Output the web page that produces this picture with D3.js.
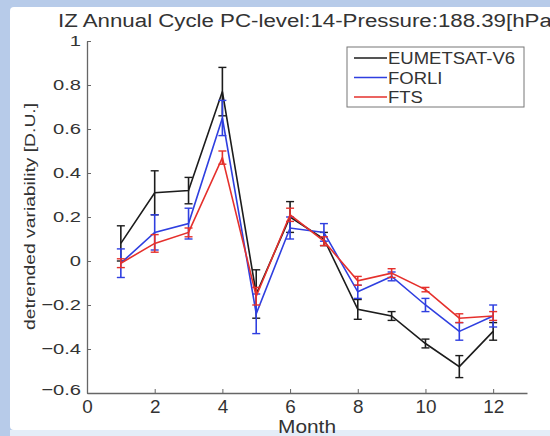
<!DOCTYPE html>
<html lang="en">
<head>
<meta charset="UTF-8">
<title>IZ Annual Cycle</title>
<style>
    body { margin: 0; background: #b7cbe9; }
    svg { display: block; }
    text { font-family: "Liberation Sans", Arial, sans-serif; fill: #333; }
</style>
</head>
<body>
<svg id="chart" width="550" height="436"></svg>
<script src="https://d3js.org/d3.v7.min.js"></script>
<script>
// months 1..12
var months = [1, 2, 3, 4, 5, 6, 7, 8, 9, 10, 11, 12];

var eumetsat = [0.08, 0.31, 0.32, 0.77, -0.15, 0.20, 0.10, -0.22, -0.25, -0.375, -0.48, -0.32];
var eumetsatErr = [0.08, 0.10, 0.06, 0.11, 0.11, 0.07, 0.03, 0.045, 0.02, 0.02, 0.05, 0.04];

var forli = [-0.01, 0.13, 0.17, 0.65, -0.24, 0.15, 0.13, -0.14, -0.07, -0.20, -0.32, -0.25];
var forliErr = [0.065, 0.08, 0.07, 0.08, 0.09, 0.05, 0.04, 0.03, 0.02, 0.03, 0.04, 0.05];

var fts = [-0.01, 0.08, 0.13, 0.47, -0.16, 0.21, 0.09, -0.09, -0.055, -0.13, -0.26, -0.25];
var ftsErr = [0.02, 0.04, 0.02, 0.03, 0.04, 0.03, 0.02, 0.02, 0.02, 0.01, 0.02, 0.02];

var xTicks = [0, 2, 4, 6, 8, 10, 12];
var yTicks = [-0.6, -0.4, -0.2, 0, 0.2, 0.4, 0.6, 0.8, 1];

var series = [
    {name: "EUMETSAT-V6", values: eumetsat, err: eumetsatErr, color: "#1c1c1c"},
    {name: "FORLI", values: forli, err: forliErr, color: "#2f3fe0"},
    {name: "FTS", values: fts, err: ftsErr, color: "#e5302c"}
];

var svg = d3.select("#chart");

// stretch a text node horizontally so it spans the given width
function fitWidth(sel, w) {
    sel.attr("textLength", w).attr("lengthAdjust", "spacingAndGlyphs");
}

// white panel over the blue page frame
svg.append("rect").attr("x", 10).attr("y", 7).attr("width", 545).attr("height", 423)
    .attr("rx", 4).attr("fill", "#fff");
svg.append("rect").attr("x", 10).attr("y", 430).attr("width", 540).attr("height", 6)
    .attr("fill", "#e4edf8");

var x = d3.scaleLinear().domain([0, 13]).range([87, 527]);
var y = d3.scaleLinear().domain([-0.6, 1]).range([393, 41]);

// axes
var xAxis = svg.append("g").attr("transform", "translate(0," + y(-0.6) + ")")
    .call(d3.axisBottom(x).tickValues(xTicks).tickSizeInner(-4).tickSizeOuter(0));
var yAxis = svg.append("g").attr("transform", "translate(" + x(0) + ",0)")
    .call(d3.axisLeft(y).tickValues(yTicks).tickSizeInner(-4).tickSizeOuter(0).tickPadding(5)
        .tickFormat(function (d) { return d === 0 ? "0" : d3.format("")(d); }));

[xAxis, yAxis].forEach(function (a) {
    a.select(".domain").attr("stroke", "#666").attr("stroke-width", 1.3);
    a.selectAll(".tick line").attr("stroke", "#666");
    a.selectAll(".tick text").attr("fill", "#444")
        .style("font-family", "'Liberation Sans', Arial, sans-serif");
});
xAxis.selectAll(".tick text").attr("font-size", 18).attr("dy", null).attr("y", 20)
    .attr("transform", "scale(1.05,1)");
yAxis.selectAll(".tick text").attr("font-size", 15.5).attr("transform", "scale(1.3,1)")
    .attr("x", -6 / 1.3);
yAxis.selectAll(".tick").filter(function (d) { return d === -0.6; }).select("text")
    .attr("dy", "0.1em");

// series
var line = d3.line()
    .x(function (d, i) { return x(months[i]); })
    .y(function (d) { return y(d); });

series.forEach(function (s) {
    var g = svg.append("g");
    g.append("path").datum(s.values)
        .attr("d", line)
        .attr("fill", "none")
        .attr("stroke", s.color)
        .attr("stroke-width", 1.6);

    var bars = g.selectAll(".err").data(s.values).enter().append("g");
    bars.append("line")
        .attr("x1", function (d, i) { return x(months[i]); })
        .attr("x2", function (d, i) { return x(months[i]); })
        .attr("y1", function (d, i) { return y(d - s.err[i]); })
        .attr("y2", function (d, i) { return y(d + s.err[i]); })
        .attr("stroke", s.color).attr("stroke-width", 1.6);
    [-1, 1].forEach(function (sign) {
        bars.append("line")
            .attr("x1", function (d, i) { return x(months[i]) - 4; })
            .attr("x2", function (d, i) { return x(months[i]) + 4; })
            .attr("y1", function (d, i) { return y(d + sign * s.err[i]); })
            .attr("y2", function (d, i) { return y(d + sign * s.err[i]); })
            .attr("stroke", s.color).attr("stroke-width", 1.4);
    });
});

// title and axis labels
svg.append("text").attr("x", 58).attr("y", 27)
    .attr("font-size", 18).attr("fill", "#333")
    .text("IZ Annual Cycle PC-level:14-Pressure:188.39[hPa]")
    .call(fitWidth, 500);

svg.append("text").attr("x", 278).attr("y", 433)
    .attr("font-size", 19).attr("fill", "#333")
    .text("Month")
    .call(fitWidth, 58);

svg.append("text")
    .attr("transform", "translate(35," + (y(0.2) + 113) + ") rotate(-90)")
    .attr("font-size", 15).attr("fill", "#333")
    .text("detrended variability [D.U.]")
    .call(fitWidth, 227);

// legend
var legend = svg.append("g");
legend.append("rect").attr("x", 347).attr("y", 47).attr("width", 177).attr("height", 60)
    .attr("fill", "#fff").attr("stroke", "#777").attr("stroke-width", 1);
var labels = series.map(function (s, i) {
    var ly = 58 + i * 19.5;
    legend.append("line").attr("x1", 354).attr("x2", 387).attr("y1", ly).attr("y2", ly)
        .attr("stroke", s.color).attr("stroke-width", 1.4);
    return legend.append("text").attr("x", 388).attr("y", ly + 6)
        .attr("font-size", 16).attr("fill", "#222").text(s.name);
});
// widen every entry by the factor that makes the longest one span 127px
var k = 127 / labels[0].node().getComputedTextLength();
labels.forEach(function (t) {
    t.call(fitWidth, t.node().getComputedTextLength() * k);
});
</script>
</body>
</html>
